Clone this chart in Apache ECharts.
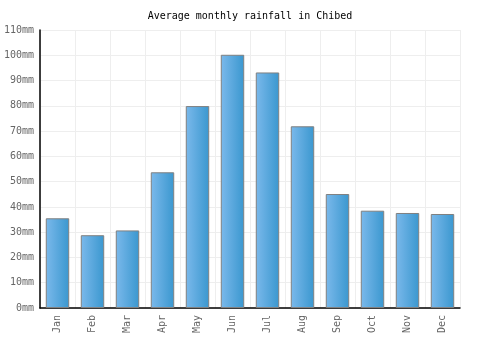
<!DOCTYPE html>
<html>
<head>
<meta charset="UTF-8">
<title>Average monthly rainfall in Chibed</title>
<style>
  body { margin: 0; background: #fff; }
  #chart { width: 500px; height: 350px; }
</style>
<script src="https://cdn.jsdelivr.net/npm/echarts@6/dist/echarts.min.js"></script>
</head>
<body>
<div id="chart"></div>
<script>
  const months = ['Jan', 'Feb', 'Mar', 'Apr', 'May', 'Jun', 'Jul', 'Aug', 'Sep', 'Oct', 'Nov', 'Dec'];
  const rainfall = [35.5, 28.8, 30.7, 53.7, 79.9, 100.2, 93.2, 71.9, 45.1, 38.5, 37.6, 37.2];

  const chart = echarts.init(document.getElementById('chart'));
  const font = '"DejaVu Sans Mono", monospace';

  chart.setOption({
    animation: false,
    title: {
      text: 'Average monthly rainfall in Chibed',
      left: 'center',
      top: 6,
      textStyle: { fontFamily: font, fontSize: 10, fontWeight: 'normal', color: '#000' }
    },
    grid: { left: 40, right: 40, top: 30, bottom: 42 },
    xAxis: {
      type: 'category',
      data: months,
      axisLine: { lineStyle: { color: '#000', width: 1.5 } },
      axisTick: { show: false },
      axisLabel: { rotate: 90, color: '#666', fontFamily: font, fontSize: 10, margin: 7 },
      splitLine: { show: true, lineStyle: { color: '#eee' } }
    },
    yAxis: {
      type: 'value',
      min: 0,
      max: 110,
      interval: 10,
      axisLine: { show: true, lineStyle: { color: '#000', width: 1.5 } },
      axisTick: { show: false },
      axisLabel: { color: '#666', fontFamily: font, fontSize: 10, margin: 6, formatter: '{value}mm' },
      splitLine: { lineStyle: { color: '#eee' } }
    },
    series: [{
      type: 'bar',
      data: rainfall,
      barCategoryGap: '33%',
      itemStyle: {
        borderColor: '#808080',
        borderWidth: 1,
        color: new echarts.graphic.LinearGradient(0, 0, 1, 0, [
          { offset: 0, color: '#7bb9eb' },
          { offset: 1, color: '#3a97cf' }
        ])
      }
    }]
  });
</script>
</body>
</html>
